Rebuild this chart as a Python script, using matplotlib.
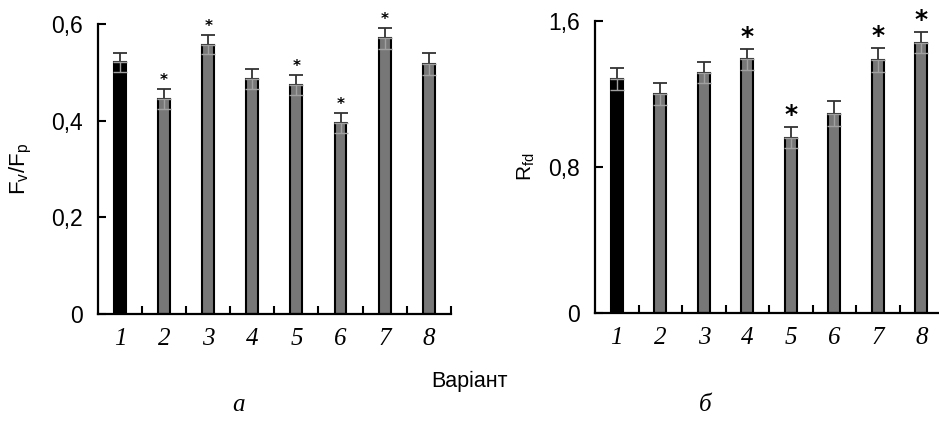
import numpy as np
from matplotlib import pyplot as plt

# Варіанти 1..8
variants = np.arange(1, 9)
tick_labels = ['1', '2', '3', '4', '5', '6', '7', '8']

# панель а: Fv/Fp
fvfp = [0.521, 0.445, 0.557, 0.486, 0.474, 0.395, 0.570, 0.517]
fvfp_err = [0.020, 0.020, 0.020, 0.020, 0.020, 0.020, 0.021, 0.022]
fvfp_star = [2, 3, 5, 6, 7]

# панель б: Rfd
rfd = [1.281, 1.199, 1.316, 1.389, 0.960, 1.092, 1.387, 1.480]
rfd_err = [0.058, 0.058, 0.057, 0.057, 0.058, 0.068, 0.066, 0.057]
rfd_star = [4, 5, 7, 8]

plt.rcParams['font.family'] = ['Liberation Sans', 'DejaVu Sans']

fig = plt.figure(figsize=(9.39, 4.23), dpi=100)
ax1 = fig.add_axes([0.1044, 0.2577, 0.3756, 0.6856])
ax2 = fig.add_axes([0.6337, 0.2593, 0.3706, 0.6917])


def draw_panel(ax, vals, errs, stars, ymax, yticks, ylabels, star_size, star_off):
    colors = ['black'] + ['#777777'] * 7
    ax.bar(variants, vals, width=0.27, color=colors, edgecolor='black', linewidth=1.5, zorder=2)
    z = np.zeros(len(vals))
    ax.errorbar(variants, vals, yerr=[z, errs], fmt='none', ecolor='#333333',
                elinewidth=1.3, capsize=5, capthick=1.3, zorder=3)
    ax.errorbar(variants, vals, yerr=[errs, z], fmt='none', ecolor='#a0a0a0',
                elinewidth=1.0, capsize=5, capthick=1.0, zorder=3)
    for s in stars:
        i = s - 1
        ax.text(variants[i], vals[i] + errs[i] + star_off, '*', ha='center', va='bottom',
                fontsize=star_size, fontweight='bold', family='DejaVu Sans', zorder=4)
    ax.set_xlim(0.5, 8.5)
    ax.set_ylim(0, ymax)
    ax.set_yticks(yticks)
    ax.set_yticklabels(ylabels, fontsize=16.5)
    ax.set_xticks(variants)
    ax.set_xticklabels(tick_labels, fontsize=18, family='Liberation Serif', style='italic')
    ax.set_xticks(variants + 0.5, minor=True)
    ax.tick_params(axis='x', which='major', length=0, pad=10)
    ax.tick_params(axis='x', which='minor', direction='in', length=6, width=1.5)
    ax.tick_params(axis='y', direction='in', length=6, width=1.5, pad=11)
    for sp in ['top', 'right']:
        ax.spines[sp].set_visible(False)
    for sp in ['left', 'bottom']:
        ax.spines[sp].set_linewidth(1.6)


draw_panel(ax1, fvfp, fvfp_err, fvfp_star, 0.6, [0, 0.2, 0.4, 0.6],
           ['0', '0,2', '0,4', '0,6'], 11, 0.002)
draw_panel(ax2, rfd, rfd_err, rfd_star, 1.6, [0, 0.8, 1.6],
           ['0', '0,8', '1,6'], 18, 0.0)

ax1.set_ylabel('F$_\\mathregular{v}$/F$_\\mathregular{p}$', fontsize=16, labelpad=12)
ax2.set_ylabel('R$_\\mathregular{fd}$', fontsize=15, labelpad=8)

fig.text(0.5, 0.098, 'Варіант', ha='center', va='center', fontsize=15.5)
fig.text(0.2535, 0.042, 'а', ha='center', va='center', fontsize=18,
         family='Liberation Serif', style='italic')
fig.text(0.751, 0.042, 'б', ha='center', va='center', fontsize=18,
         family='Liberation Serif', style='italic')

fig.savefig('out.png', dpi=100)
